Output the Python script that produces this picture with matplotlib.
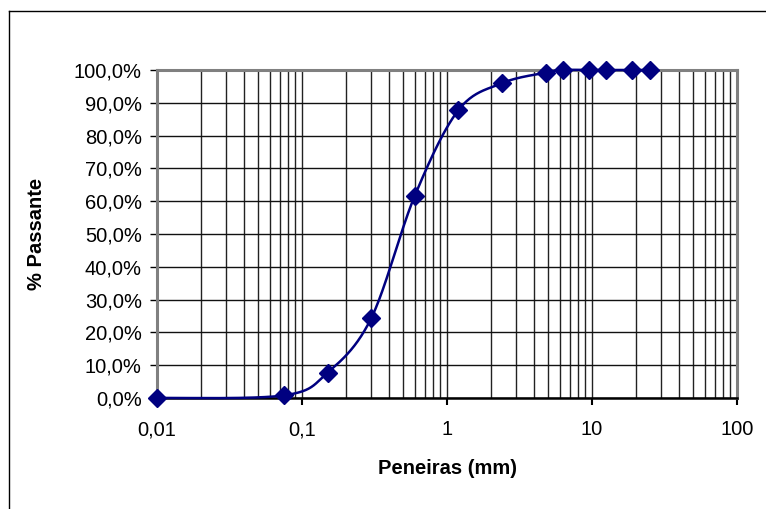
import numpy as np
import matplotlib
matplotlib.use("Agg")
import matplotlib.pyplot as plt
from matplotlib.lines import Line2D
from matplotlib.ticker import FixedLocator, FuncFormatter, NullFormatter

plt.rcParams['font.family'] = ['Liberation Sans', 'DejaVu Sans']

# Data
sieves_mm = [0.01, 0.075, 0.15, 0.3, 0.6, 1.2, 2.4, 4.8, 6.3, 9.5, 12.5, 19, 25]
passing_pct = [0.0, 0.8, 7.7, 24.3, 61.7, 87.8, 96.0, 99.2, 100.0, 100.0, 100.0, 100.0, 100.0]
x_ticks = [0.01, 0.1, 1, 10, 100]
x_tick_labels = ["0,01", "0,1", "1", "10", "100"]
y_ticks = [0, 10, 20, 30, 40, 50, 60, 70, 80, 90, 100]
x_label = "Peneiras (mm)"
y_label = "% Passante"

navy = "#000080"

W, H = 766, 509
fig = plt.figure(figsize=(W / 100, H / 100), dpi=100)
fig.patch.set_facecolor("white")
ax = fig.add_axes([157 / W, 1 - 398 / H, (737 - 157) / W, (398 - 70) / H])

# Smoothed curve (Catmull-Rom / Bezier in log-x space, like spreadsheet smoothing)
lx = np.log10(np.array(sieves_mm, dtype=float))
yy = np.array(passing_pct, dtype=float)
P = np.column_stack([lx, yy])
n = len(P)
curve = []
t = np.linspace(0, 1, 40)
for i in range(n - 1):
    p0 = P[max(i - 1, 0)]
    p1 = P[i]
    p2 = P[i + 1]
    p3 = P[min(i + 2, n - 1)]
    c1 = p1 + (p2 - p0) / 6.0
    c2 = p2 - (p3 - p1) / 6.0
    seg = ((1 - t) ** 3)[:, None] * p1 + (3 * (1 - t) ** 2 * t)[:, None] * c1 \
        + (3 * (1 - t) * t ** 2)[:, None] * c2 + (t ** 3)[:, None] * p2
    curve.append(seg)
curve = np.vstack(curve)
ax.plot(10 ** curve[:, 0], curve[:, 1], color=navy, lw=1.8, clip_on=False, zorder=4)
ax.plot(sieves_mm, passing_pct, linestyle="none", marker="D", ms=9,
        color=navy, mec=navy, clip_on=False, zorder=5)

ax.set_xscale("log")
ax.set_xlim(0.01, 100)
ax.set_ylim(0, 100)

ax.xaxis.set_major_locator(FixedLocator(x_ticks))
ax.xaxis.set_major_formatter(FuncFormatter(lambda v, p: x_tick_labels[x_ticks.index(v)] if v in x_ticks else ""))
minor = [m * d for d in [0.01, 0.1, 1, 10] for m in range(2, 10)]
ax.xaxis.set_minor_locator(FixedLocator(minor))
ax.xaxis.set_minor_formatter(NullFormatter())
ax.yaxis.set_major_locator(FixedLocator(y_ticks))
ax.yaxis.set_major_formatter(FuncFormatter(lambda v, p: f"{v:.1f}%".replace(".", ",")))

ax.grid(True, which="major", axis="y", color="#111111", lw=1.0)
ax.grid(True, which="both", axis="x", color="#222222", lw=1.0)
ax.set_axisbelow(True)

ax.tick_params(axis="x", which="major", direction="out", length=5, width=1.5,
               labelsize=14.5, pad=11, colors="black")
ax.tick_params(axis="x", which="minor", length=0)
ax.tick_params(axis="y", which="major", direction="out", length=5, width=1,
               labelsize=14.5, pad=6, colors="black")

for s in ["top", "right", "left"]:
    ax.spines[s].set_color("#808080")
    ax.spines[s].set_linewidth(2.2)
ax.spines["bottom"].set_color("black")
ax.spines["bottom"].set_linewidth(1.8)

ax.set_xlabel(x_label, fontsize=14.5, fontweight="bold", labelpad=14)
ax.set_ylabel(y_label, fontsize=14.5, fontweight="bold", labelpad=20)

# Chart area border (left and top visible)
fig.add_artist(Line2D([8.5 / W, 8.5 / W], [-0.1, 1 - 11 / H], transform=fig.transFigure, color="black", lw=1))
fig.add_artist(Line2D([8.5 / W, 1.1], [1 - 11 / H, 1 - 11 / H], transform=fig.transFigure, color="black", lw=1))

fig.savefig("out.png", dpi=100, facecolor="white")
